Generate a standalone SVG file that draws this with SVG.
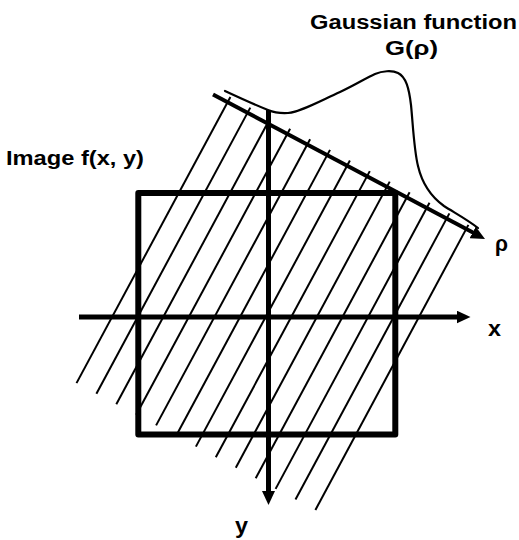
<svg xmlns="http://www.w3.org/2000/svg" width="519" height="540" viewBox="0 0 519 540">
  <style>
    .lbl { font-family: "Liberation Sans", Arial, sans-serif; font-weight: bold; font-size: 20px; fill: #000; }
    .sym { font-size: 22px; }
    .hatch line { stroke: #000; stroke-width: 2; }
    .axis { stroke: #000; fill: none; }
  </style>
  <defs>
    <marker id="arrow" markerUnits="userSpaceOnUse" markerWidth="14" markerHeight="13" refX="4" refY="6.5" orient="auto">
      <path d="M0,0 L14,6.5 L0,13 z" fill="#000"/>
    </marker>
  </defs>
  <rect width="519" height="540" fill="#fff"/>

  <g id="projection-lines" class="hatch">
    <line x1="230.4" y1="97.0" x2="76.5" y2="383.1"/>
    <line x1="250.3" y1="107.6" x2="96.4" y2="393.7"/>
    <line x1="270.2" y1="118.2" x2="116.3" y2="404.3"/>
    <line x1="290.1" y1="128.8" x2="136.2" y2="414.8"/>
    <line x1="310.1" y1="139.3" x2="156.1" y2="425.4"/>
    <line x1="330.0" y1="149.9" x2="176.0" y2="436.0"/>
    <line x1="349.9" y1="160.5" x2="195.9" y2="446.6"/>
    <line x1="369.8" y1="171.1" x2="215.8" y2="457.2"/>
    <line x1="389.7" y1="181.6" x2="235.8" y2="467.7"/>
    <line x1="409.6" y1="192.2" x2="255.7" y2="478.3"/>
    <line x1="429.5" y1="202.8" x2="275.6" y2="488.9"/>
    <line x1="449.4" y1="213.4" x2="295.5" y2="499.5"/>
    <line x1="468.4" y1="224.9" x2="315.4" y2="510.0"/>
  </g>

  <g id="image-square">
    <rect x="138.3" y="193" width="257" height="241.5" fill="none" stroke="#000" stroke-width="6" stroke-linejoin="round"/>
  </g>

  <g id="connectors">
    <line id="x-axis" class="axis" x1="79" y1="317" x2="460.5" y2="317" stroke-width="5" marker-end="url(#arrow)"/>
    <line id="y-axis" class="axis" x1="268.5" y1="110" x2="268.5" y2="495" stroke-width="5" marker-end="url(#arrow)"/>
    <line id="rho-axis" class="axis" x1="213" y1="94.5" x2="476.2" y2="234.3" stroke-width="4" marker-end="url(#arrow)"/>
  </g>

  <g id="gaussian">
    <path class="axis" stroke-width="2.2" stroke-linecap="round" stroke-linejoin="round"
      d="M225,91 C240,98 258,106 268,110 C274,112.5 280,113.5 288,113 C300,112 318,102 340,92 C355,85 366,78 375,74 C382,71 392,70 398,73 C406,77 409,88 411,105 C413,125 414,150 418,166 C422,183 430,196 444,206 C455,213 468,220 478,228"/>
  </g>

  <g id="labels">
    <text id="label-gaussian" class="lbl" x="310" y="28.5" textLength="207" lengthAdjust="spacingAndGlyphs">Gaussian function</text>
    <text id="label-g" class="lbl" x="385" y="55" textLength="53" lengthAdjust="spacingAndGlyphs">G(ρ)</text>
    <text id="label-image" class="lbl" x="6" y="165" textLength="138" lengthAdjust="spacingAndGlyphs">Image f(x, y)</text>
    <text id="label-rho" class="lbl sym" x="495" y="251" textLength="13" lengthAdjust="spacingAndGlyphs">ρ</text>
    <text id="label-x" class="lbl sym" x="488" y="336" textLength="13" lengthAdjust="spacingAndGlyphs">x</text>
    <text id="label-y" class="lbl sym" x="235" y="533" textLength="13" lengthAdjust="spacingAndGlyphs">y</text>
  </g>
</svg>
